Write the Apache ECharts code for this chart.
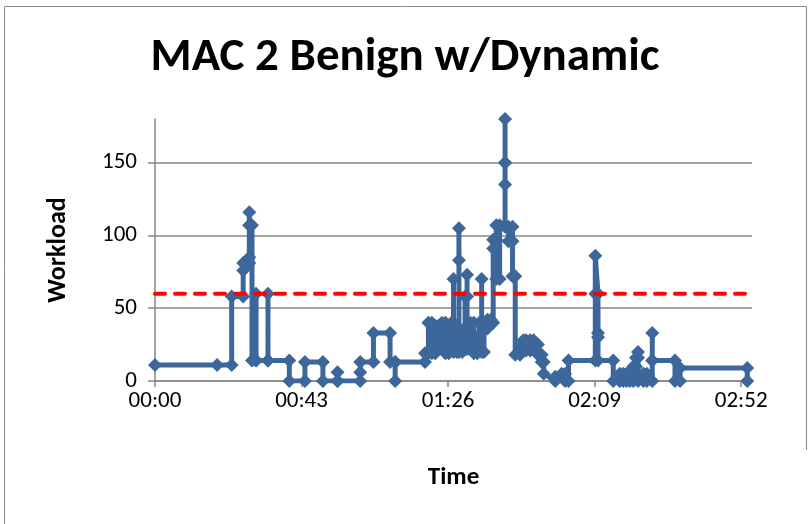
<!DOCTYPE html>
<html>
<head>
<meta charset="utf-8">
<script src="https://cdn.jsdelivr.net/npm/echarts@6/dist/echarts.min.js"></script>
<style>
html,body{margin:0;padding:0;background:#fff;}
#chart{width:810px;height:524px;}
</style>
</head>
<body>
<div id="chart"></div>
<script>
// Time in minutes since 00:00 (step-like samples: value changes at the same time stamp)
var times = [
  0, 18.3, 22.6, 22.6, 26.0, 26.0, 26.0, 27.8, 27.8, 27.8, 27.8, 27.8, 28.6, 28.6, 29.8, 29.8, 29.8, 33.3, 33.3, 33.3,
  39.6, 39.6, 44.2, 44.2, 49.5, 49.5, 53.8, 53.8, 53.8, 60.5, 60.5, 60.5, 64.4, 64.4, 69.3, 69.3, 70.8, 70.8, 70.8,
  79.6, 79.6, 80.6, 80.6, 81.6, 81.6, 82.6, 82.6, 83.6, 83.6, 84.6, 84.6, 85.6, 85.6, 86.6, 86.6, 87.4, 87.4,
  88.0, 88.0, 88.0, 89.0, 89.0, 89.6, 89.6, 89.6, 89.6, 90.6, 90.6, 91.4, 91.4, 92.0, 92.0, 92.0, 93.0, 93.0,
  94.0, 94.0, 95.0, 95.0, 95.6, 95.6, 96.3, 96.3, 96.3, 97.0, 97.0, 98.0, 98.0, 99.0, 99.0, 99.7,
  99.7, 99.7, 100.6, 100.6, 100.6, 101.6, 101.6, 103.2, 103.2, 103.2, 103.2, 103.2, 103.2, 104.2, 104.2,
  105.4, 105.4, 105.4, 106.2, 106.2,
  107.6, 107.6, 108.6, 108.6, 109.4, 109.4, 110.6, 110.6, 111.6, 111.6, 112.9, 112.9, 114.0, 114.0, 114.6, 114.6,
  118.0, 118.0, 119.9, 119.9, 120.9, 120.9, 121.9, 121.9,
  129.8, 129.8, 129.8, 130.6, 130.6, 130.6, 130.6, 135.1, 135.1, 137.0, 137.0, 138.0, 138.0, 139.0, 139.0,
  140.0, 140.0, 141.0, 141.0, 141.8, 141.8, 142.4, 142.4, 142.4, 144.0, 144.0, 145.0, 145.0, 146.6, 146.6, 146.6,
  146.6, 153.3, 153.3, 154.8, 154.8, 174.6, 174.6
];
var workload = [
  11, 11, 11, 58, 58, 76, 81, 81, 85, 107, 116, 107, 107, 14, 14, 60, 14, 14, 60, 14,
  14, 0, 0, 13, 13, 0, 0, 6, 0, 0, 6, 13, 13, 33, 33, 13, 13, 0, 13,
  13, 19, 19, 40, 40, 19, 19, 38, 38, 22, 22, 40, 40, 19, 19, 35, 35, 40,
  40, 70, 20, 20, 33, 33, 83, 105, 20, 20, 35, 35, 58, 58, 73, 22, 22, 40,
  40, 19, 19, 30, 30, 40, 40, 70, 20, 20, 36, 36, 42, 42, 40, 40,
  91, 97, 97, 107, 70, 70, 107, 107, 135, 150, 180, 150, 106, 106, 96,
  96, 106, 72, 72, 18,
  18, 23, 23, 28, 28, 21, 21, 28, 28, 25, 25, 18, 18, 13, 13, 5,
  0, 3, 3, 5, 5, 0, 0, 14,
  14, 60, 86, 60, 33, 30, 14, 14, 0, 0, 5, 5, 0, 0, 5,
  5, 0, 0, 10, 10, 16, 16, 20, 0, 0, 5, 5, 0, 0, 14, 33,
  14, 14, 0, 0, 9, 9, 0
];
var thresholdTimes = [0, 174.6];
var thresholdValues = [60, 60];
var xTickValues = [0, 43.2, 86.4, 129.6, 172.8];
var yTickValues = [0, 50, 100, 150];

var series1 = times.map(function (t, i) { return [t, workload[i]]; });
var series2 = thresholdTimes.map(function (t, i) { return [t, thresholdValues[i]]; });

function fmtTime(v) {
  var h = Math.floor(v / 60 + 1e-9);
  var m = Math.floor(v - h * 60 + 1e-6);
  return (h < 10 ? '0' : '') + h + ':' + (m < 10 ? '0' : '') + m;
}

var FONT = 'Carlito, Lato, "Open Sans", sans-serif';
var chart = echarts.init(document.getElementById('chart'), null, {renderer: 'canvas'});
chart.setOption({
  animation: false,
  backgroundColor: '#fff',
  title: {
    text: 'MAC 2 Benign w/Dynamic',
    left: 'center',
    top: 30,
    textStyle: {fontFamily: FONT, fontSize: 47, fontWeight: 'bold', color: '#000'}
  },
  graphic: [{
    type: 'polyline',
    shape: {points: [[4.5, 524], [4.5, 6.5], [806.5, 6.5], [806.5, 450]]},
    style: {stroke: '#8a8a8a', lineWidth: 1, fill: null},
    silent: true
  }],
  grid: {left: 155, right: 58, top: 119, bottom: 143},
  xAxis: {
    type: 'value',
    min: 0,
    max: 176,
    name: 'Time',
    nameLocation: 'middle',
    nameGap: 84,
    nameTextStyle: {fontFamily: FONT, fontSize: 25, fontWeight: 'bold', color: '#000'},
    axisLine: {show: true, onZero: false, lineStyle: {color: '#868686', width: 1.5}},
    axisTick: {show: true, length: 6, customValues: xTickValues, lineStyle: {color: '#868686', width: 1.5}},
    axisLabel: {
      customValues: xTickValues,
      formatter: fmtTime,
      margin: 9,
      fontFamily: FONT, fontSize: 23, color: '#000'
    },
    splitLine: {show: false}
  },
  yAxis: {
    type: 'value',
    min: 0,
    max: 180,
    interval: 50,
    name: 'Workload',
    nameLocation: 'middle',
    nameGap: 84,
    nameRotate: 90,
    nameTextStyle: {fontFamily: FONT, fontSize: 26, fontWeight: 'bold', color: '#000'},
    axisLine: {show: true, lineStyle: {color: '#868686', width: 1.5}},
    axisTick: {show: true, length: 7, customValues: yTickValues, lineStyle: {color: '#868686', width: 1.5}},
    axisLabel: {
      customValues: yTickValues,
      margin: 18,
      fontFamily: FONT, fontSize: 23, color: '#000'
    },
    splitLine: {show: true, lineStyle: {color: ['#868686', '#868686', '#868686', '#868686', 'rgba(0,0,0,0)'], width: 1.5}}
  },
  series: [{
    type: 'line',
    data: series1,
    symbol: 'diamond',
    symbolSize: 14,
    showAllSymbol: true,
    lineStyle: {color: '#3d679b', width: 5},
    itemStyle: {color: '#3d679b'},
    z: 2
  }, {
    type: 'line',
    data: series2,
    symbol: 'none',
    lineStyle: {color: '#ff0000', width: 4, type: [10, 10], cap: 'round'},
    z: 3
  }]
});
</script>
</body>
</html>
